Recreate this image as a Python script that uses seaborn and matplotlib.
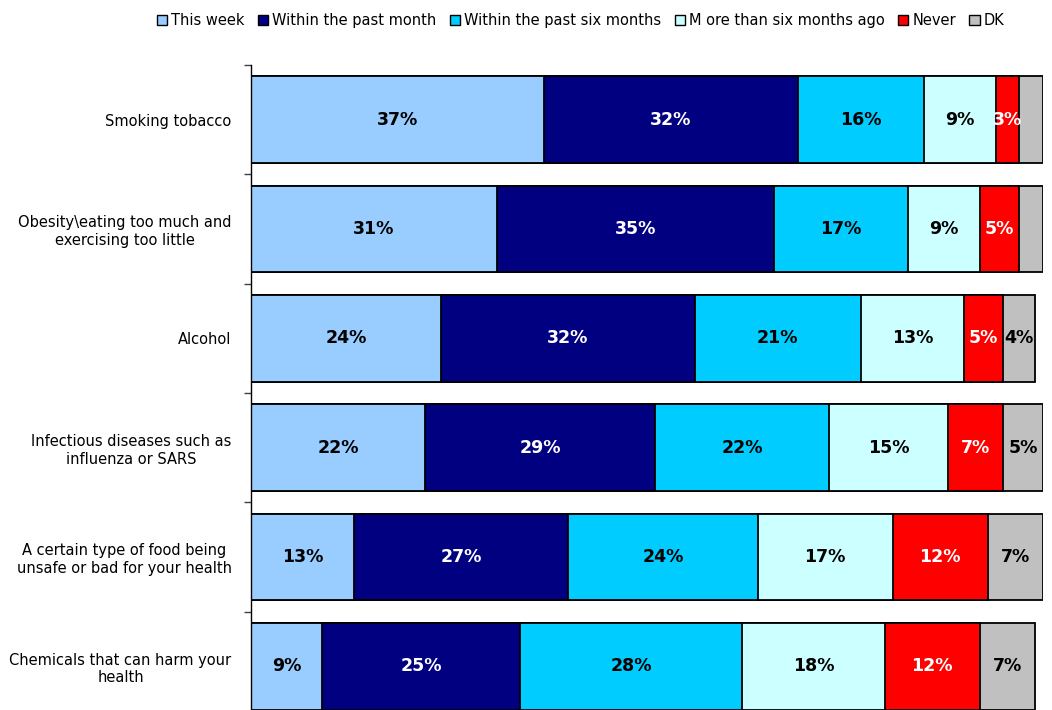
import matplotlib
matplotlib.use("Agg")
import matplotlib.pyplot as plt
import seaborn as sns
import numpy as np
import pandas as pd
from matplotlib.patches import Patch

categories = [
    "Smoking tobacco",
    "Obesity\\eating too much and\nexercising too little",
    "Alcohol",
    "Infectious diseases such as\ninfluenza or SARS",
    "A certain type of food being\nunsafe or bad for your health",
    "Chemicals that can harm your\nhealth",
]
series_names = ["This week", "Within the past month", "Within the past six months",
                "M ore than six months ago", "Never", "DK"]
this_week = [37, 31, 24, 22, 13, 9]
past_month = [32, 35, 32, 29, 27, 25]
past_six_months = [16, 17, 21, 22, 24, 28]
more_than_six = [9, 9, 13, 15, 17, 18]
never = [3, 5, 5, 7, 12, 12]
dk = [3, 3, 4, 5, 7, 7]
dk_labels = ["", "", "4%", "5%", "7%", "7%"]

colors = ["#99CCFF", "#000080", "#00CCFF", "#CCFFFF", "#FF0000", "#C0C0C0"]
text_colors = ["black", "white", "black", "black", "white", "black"]

sns.set_style("white")
plt.rcParams['font.family'] = ['DejaVu Sans']
plt.rcParams['text.color'] = 'black'
plt.rcParams['ytick.color'] = 'black'

fig = plt.figure(figsize=(10.52, 7.10), dpi=100)
ax = fig.add_axes([0.2386, -0.0155, 0.7529, 0.924])

series = [this_week, past_month, past_six_months, more_than_six, never, dk]
vals = np.array(series, dtype=float)
cum = np.cumsum(vals, axis=0)

# draw from the full stack down to the first segment
for i in range(len(series) - 1, -1, -1):
    df = pd.DataFrame({"cat": categories, "val": cum[i]})
    sns.barplot(data=df, y="cat", x="val", orient="h", color=colors[i],
                saturation=1, edgecolor="black", linewidth=1.3, width=0.79, ax=ax)

# labels
for i in range(len(series)):
    for j in range(len(categories)):
        v = vals[i, j]
        left = cum[i, j] - v
        if i == 5:
            txt = dk_labels[j]
        else:
            txt = f"{int(v)}%"
        if txt:
            ax.text(left + v / 2, j, txt, ha="center", va="center",
                    color=text_colors[i], fontsize=12.5, fontweight="bold")

ax.set_xlim(0, 100)
ax.set_ylim(5.5, -0.5)
ax.set_xlabel("")
ax.set_ylabel("")
ax.set_xticks([])
for s in ["top", "right", "bottom"]:
    ax.spines[s].set_visible(False)
ax.spines["left"].set_color("black")
ax.spines["left"].set_linewidth(1.0)

ax.set_yticks(range(len(categories)))
ax.set_yticklabels(categories, fontsize=10.5, multialignment="center", color="black")
ax.set_yticks(np.arange(-0.5, 6, 1), minor=True)
ax.tick_params(axis="y", which="major", length=0, pad=14)
ax.tick_params(axis="y", which="minor", left=True, length=5, width=1,
               color="#404040", direction="out")

handles = [Patch(facecolor=c, edgecolor="black", linewidth=1) for c in colors]
fig.legend(handles, series_names, loc="center", bbox_to_anchor=(0.552, 0.971),
           ncol=6, frameon=False, fontsize=10.5, handlelength=0.7, handleheight=0.7,
           handletextpad=0.3, columnspacing=0.9)

fig.savefig("out.png", dpi=100)
